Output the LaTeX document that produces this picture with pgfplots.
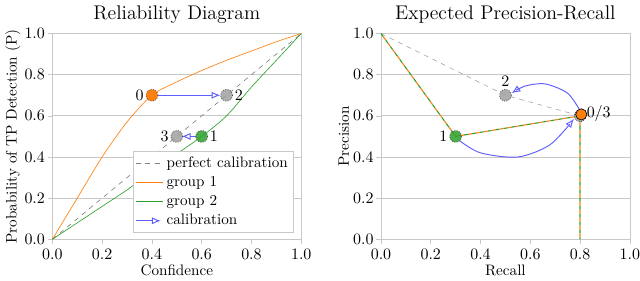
\documentclass[border=0pt]{standalone}
\usepackage{pgfplots}
\pgfplotsset{compat=1.18}
\usetikzlibrary{arrows.meta}
\definecolor{tOrange}{HTML}{FF7F0E}
\definecolor{tGreen}{HTML}{2CA02C}
\definecolor{calblue}{RGB}{95,95,255}
\definecolor{framegray}{HTML}{C8C8C8}
\definecolor{mgray}{HTML}{A0A0A0}
\pgfplotsset{myaxis/.style={
  scale only axis, width=156pt, height=129pt,
  xmin=0, xmax=1, ymin=0, ymax=1,
  xtick={0,0.2,0.4,0.6,0.8,1}, ytick={0,0.2,0.4,0.6,0.8,1},
  xticklabel style={inner xsep=0pt, /pgf/number format/.cd,fixed,fixed zerofill,precision=1},
  yticklabel style={inner xsep=1.5pt, /pgf/number format/.cd,fixed,fixed zerofill,precision=1},
  axis line style={framegray}, tick style={framegray, thin},
  tick align=outside, xtick pos=bottom, ytick pos=left,
  ymajorgrids, grid style={framegray, line width=0.6pt},
  major tick length=3pt,
  title style={font=\fontsize{12.4}{14}\selectfont, yshift=-3pt},
  label style={font=\fontsize{9.5}{11}\selectfont},
  xlabel style={yshift=4pt},
  ylabel style={yshift=-2.5pt},
  clip=false,
},
gmark/.style={only marks, mark=*, mark size=3.7pt, mark options={fill=mgray, fill opacity=0.85, draw=gray!60!black, densely dotted, line width=0.5pt}},
cal/.style={calblue, line width=0.6pt, -{Latex[open, length=5.5pt, width=4.5pt]}},
callegend/.style={legend image code/.code={\draw[##1] (0cm,0cm) -- (0.55cm,0cm);}},
}
\begin{document}
\begin{tikzpicture}
\begin{axis}[myaxis, title={Reliability Diagram}, xlabel={Confidence}, ylabel={Probability of TP Detection (P)},
  legend style={at={(0.97,0.03)}, anchor=south east, draw=framegray, font=\fontsize{9.5}{11}\selectfont, row sep=0pt, inner sep=1.5pt},
  legend cell align=left]
\addplot[gray, dashed, thin] coordinates {(0,0) (1,1)};
\addlegendentry{perfect calibration}
\addplot[tOrange, thin, smooth] coordinates {(0,0) (0.1,0.2) (0.2,0.4) (0.3,0.57) (0.4,0.7) (0.5,0.765) (0.6,0.82) (0.7,0.87) (0.8,0.915) (0.9,0.96) (1,1)};
\addlegendentry{group 1}
\addplot[tGreen, thin, smooth] coordinates {(0,0) (0.1,0.08) (0.2,0.16) (0.3,0.24) (0.4,0.33) (0.5,0.415) (0.6,0.5) (0.7,0.6) (0.8,0.74) (0.9,0.87) (1,1)};
\addlegendentry{group 2}
\addplot[cal, callegend] coordinates {(0.425,0.7) (0.675,0.7)};
\addlegendentry{calibration}
\addplot[cal, forget plot] coordinates {(0.58,0.5) (0.52,0.5)};
\addplot[gmark, forget plot] coordinates {(0.7,0.7) (0.5,0.5)};
\addplot[only marks, mark=*, mark size=3.7pt, mark options={fill=tOrange, draw=gray!60!black, densely dotted, line width=0.5pt}, forget plot] coordinates {(0.4,0.7)};
\addplot[only marks, mark=*, mark size=3.7pt, mark options={fill=tGreen, fill opacity=0.85, draw=gray!60!black, densely dotted, line width=0.5pt}, forget plot] coordinates {(0.6,0.5)};
\node[left, inner sep=5pt] at (axis cs:0.4,0.7) {0};
\node[right, inner sep=5pt] at (axis cs:0.7,0.7) {2};
\node[left, inner sep=5pt] at (axis cs:0.5,0.5) {3};
\node[right, inner sep=5pt] at (axis cs:0.6,0.5) {1};
\end{axis}
\begin{axis}[myaxis, xshift=206pt, title={Expected Precision-Recall}, xlabel={Recall}, ylabel={Precision}]
\addplot[gray!70, dashed, thin] coordinates {(0,1) (0.5,0.7) (0.8,0.6)};
\addplot[tGreen, line width=0.7pt, dash pattern=on 2.5pt off 2.5pt] coordinates {(0,1) (0.3,0.5) (0.8,0.6) (0.8,0)};
\addplot[tOrange, line width=0.7pt, dash pattern=on 2.5pt off 2.5pt, dash phase=2.5pt] coordinates {(0,1) (0.3,0.5) (0.8,0.6) (0.8,0)};
\addplot[cal, smooth] coordinates {(0.315,0.48) (0.4,0.42) (0.55,0.40) (0.68,0.46) (0.775,0.585)};
\addplot[cal, smooth] coordinates {(0.8,0.625) (0.75,0.71) (0.66,0.755) (0.58,0.745) (0.525,0.71)};
\addplot[gmark] coordinates {(0.5,0.7) (0.8,0.6)};
\addplot[only marks, mark=*, mark size=3.7pt, mark options={fill=tGreen, fill opacity=0.85, draw=gray!60!black, densely dotted, line width=0.5pt}] coordinates {(0.3,0.5)};
\addplot[only marks, mark=*, mark size=3.5pt, mark options={fill=tOrange, draw=none}] coordinates {(0.805,0.607)};
\node[above, inner sep=5pt] at (axis cs:0.5,0.7) {2};
\node[left, inner sep=5pt] at (axis cs:0.3,0.5) {1};
\node[right, inner sep=4pt] at (axis cs:0.8,0.61) {0/3};
\end{axis}
\end{tikzpicture}
\end{document}
